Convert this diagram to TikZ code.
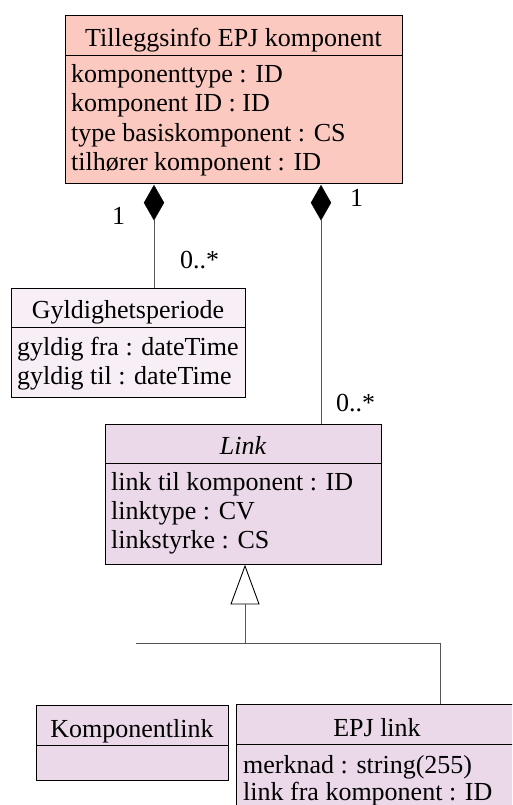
\documentclass[tikz,border=0pt]{standalone}
\usepackage{fontspec}
\setmainfont{Liberation Serif}
\usetikzlibrary{shapes.geometric}
\definecolor{topfill}{HTML}{FCC9C1}
\definecolor{gylfill}{HTML}{F8EFF6}
\definecolor{linkfill}{HTML}{EBD9EA}
\definecolor{conngray}{HTML}{555555}
\begin{document}
\begin{tikzpicture}[x=1pt,y=-1pt,
  cls/.style={draw=black, line width=0.9pt, rectangle, inner sep=0pt, anchor=north west},
  sep/.style={draw=black, line width=0.9pt},
  conn/.style={draw=conngray, line width=0.9pt},
  txt/.style={inner sep=0pt, anchor=base west, font=\fontsize{26}{29}\selectfont},
  ttl/.style={inner sep=0pt, anchor=base, font=\fontsize{26}{29}\selectfont},
  comp/.style={diamond, draw=black, fill=black, inner sep=0pt, minimum width=20pt, minimum height=35pt, anchor=north}]
\useasboundingbox (0,0) rectangle (512,805);
\clip (0,0) rectangle (512,805);
\fill[white] (0,0) rectangle (512,805);
% Top class
\node[cls, fill=topfill, minimum width=337pt, minimum height=168pt] (top) at (65,15) {};
\draw[sep] (65,55) -- (402,55);
\node[ttl] (topt) at (233.5,47) {Tilleggsinfo EPJ komponent};
\node[txt] (ta1) at (71,83) {komponenttype : ID};
\node[txt] (ta2) at (71,112) {komponent ID : ID};
\node[txt] (ta3) at (71,142) {type basiskomponent : CS};
\node[txt] (ta4) at (71,171) {tilhører komponent : ID};
% Gyldighetsperiode
\node[cls, fill=gylfill, minimum width=234pt, minimum height=109pt] (gyl) at (11,288) {};
\draw[sep] (11,327) -- (245,327);
\node[ttl] (gylt) at (128,318) {Gyldighetsperiode};
\node[txt] (ga1) at (17,355) {gyldig fra : dateTime};
\node[txt] (ga2) at (17,384) {gyldig til : dateTime};
% Link
\node[cls, fill=linkfill, minimum width=276pt, minimum height=140pt] (link) at (105,424) {};
\draw[sep] (105,463) -- (381,463);
\node[ttl] (linkt) at (243,454) {\itshape Link};
\node[txt] (la1) at (111,490) {link til komponent : ID};
\node[txt] (la2) at (111,519) {linktype : CV};
\node[txt] (la3) at (111,548) {linkstyrke : CS};
% Komponentlink
\node[cls, fill=linkfill, minimum width=192pt, minimum height=75pt] (kl) at (36,705) {};
\draw[sep] (36,745) -- (228,745);
\node[ttl] (klt) at (132,737) {Komponentlink};
% EPJ link
\node[cls, fill=linkfill, minimum width=282pt, minimum height=130pt] (epj) at (236,704) {};
\draw[sep] (236,744) -- (518,744);
\node[ttl] (epjt) at (377,736) {EPJ link};
\node[txt] (ea1) at (243,773) {merknad : string(255)};
\node[txt] (ea2) at (243,800) {link fra komponent : ID};
% Composition diamonds
\node[comp] (d1) at (154,185) {};
\node[comp] (d2) at (321,185) {};
\draw[conn] (d1.south) -- (d1.south |- gyl.north);
\draw[conn] (d2.south) -- (d2.south |- link.north);
% Multiplicities
\node[txt] (m1) at (112,224) {1};
\node[txt] (m2) at (180,268) {0..*};
\node[txt] (m3) at (350,207) {1};
\node[txt] (m4) at (336,411) {0..*};
% Generalization
\coordinate (tip) at (245,566);
\coordinate (tbase) at (245,604);
\coordinate (barL) at (136,643);
\coordinate (barR) at (440,643);
\draw[black, line width=0.9pt, fill=white] (tip) -- (259,604) -- (231,604) -- cycle;
\draw[conn] (tbase) -- (tbase |- barL);
\draw[conn] (barL) -- (barR) -- (barR |- epj.north);
\end{tikzpicture}
\end{document}
